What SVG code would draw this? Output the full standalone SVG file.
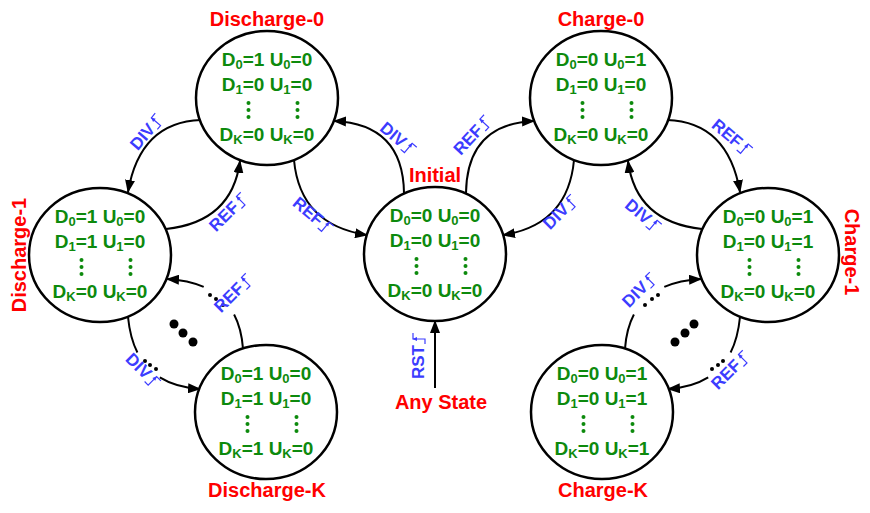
<svg xmlns="http://www.w3.org/2000/svg" xmlns:xlink="http://www.w3.org/1999/xlink" width="870" height="513" viewBox="0 0 870 513">
<style>
.node ellipse{fill:#fff;stroke:#000;stroke-width:2.5}
.st{font-family:"Liberation Sans",Arial,sans-serif;font-weight:bold;font-size:19px;fill:#0d8a0d;text-anchor:middle}
.sb{font-size:13px}
.lbl{font-family:"Liberation Sans",Arial,sans-serif;font-weight:bold;font-size:20px;fill:#ff0000;text-anchor:middle}
.el{font-family:"Liberation Sans",Arial,sans-serif;font-weight:bold;font-size:17px;fill:#3c3cff}
.edge{fill:none;stroke:#3c3cff;stroke-width:1.2}
#connectors path{fill:none;stroke:#000;stroke-width:2}
#connectors path.arr{marker-end:url(#ah)}
</style>
<defs>
<marker id="ah" viewBox="0 0 13 10" refX="12" refY="5" markerWidth="13" markerHeight="10" markerUnits="userSpaceOnUse" orient="auto"><path d="M0,0 L13,5 L0,10 z" fill="#000"/></marker>
<g id="vd" fill="#0d8a0d"><circle cx="-18.5" cy="5" r="2"/><circle cx="-18.5" cy="12" r="2"/><circle cx="-18.5" cy="19" r="2"/><circle cx="30.5" cy="5" r="2"/><circle cx="30.5" cy="12" r="2"/><circle cx="30.5" cy="19" r="2"/></g>
<g id="re"><path class="edge" d="M0,1 H5 V-11 H11"/><path d="M3,-7 L5,-11.5 L7,-7 z" fill="#3c3cff"/></g>
</defs>

<g id="connectors">
<path class="arr" d="M201,120 Q140,122 128,192"/>
<path class="arr" d="M166,229 Q232,222 240,161"/>
<path class="arr" d="M404,193 Q403,124 334,121"/>
<path class="arr" d="M294,160 Q300,225 367,235"/>
<path class="arr" d="M466,193 Q467,124 534,121"/>
<path class="arr" d="M574,160 Q568,225 503,235"/>
<path class="arr" d="M667,120 Q728,122 740,192"/>
<path class="arr" d="M702,229 Q636,222 628,161"/>
<path d="M128,317 Q130.1,338.1 137.4,352.5"/>
<path class="arr" d="M159.8,377.4 Q176,387.5 200,389"/>
<path d="M243,348.6 Q241.5,328.5 234.1,314.5"/>
<path class="arr" d="M203.7,286.9 Q188.3,280.2 167,279"/>
<path d="M740,317 Q737.9,338.1 730.6,352.5"/>
<path class="arr" d="M708.2,377.4 Q692,387.5 668,389"/>
<path d="M625,348.6 Q626.5,328.5 633.9,314.5"/>
<path class="arr" d="M664.3,286.9 Q679.7,280.2 701,279"/>
<path class="arr" d="M435,388 L435,321"/>
<g fill="#000">
<circle cx="145" cy="361" r="2"/><circle cx="150" cy="365" r="2"/><circle cx="156" cy="369" r="2"/>
<circle cx="210" cy="295" r="2"/><circle cx="216" cy="299" r="2"/><circle cx="223" cy="305" r="2"/>
<circle cx="723" cy="361" r="2"/><circle cx="718" cy="365" r="2"/><circle cx="712" cy="369" r="2"/>
<circle cx="658" cy="295" r="2"/><circle cx="652" cy="299" r="2"/><circle cx="645" cy="305" r="2"/>
<circle cx="174" cy="324" r="4.5"/><circle cx="183" cy="333" r="4.5"/><circle cx="193" cy="342" r="4.5"/>
<circle cx="694" cy="324" r="4.5"/><circle cx="685" cy="333" r="4.5"/><circle cx="675" cy="342" r="4.5"/>
</g>
<g transform="translate(146,132) rotate(-50)"><text class="el" x="-20" y="6">DIV</text><use xlink:href="#re" x="9.3" y="6"/></g>
<g transform="translate(228,212) rotate(-45)"><text class="el" x="-23" y="6">REF</text><use xlink:href="#re" x="12" y="6"/></g>
<g transform="translate(398,138) rotate(40)"><text class="el" x="-20" y="6">DIV</text><use xlink:href="#re" x="9.3" y="6"/></g>
<g transform="translate(313,215) rotate(40)"><text class="el" x="-23" y="6">REF</text><use xlink:href="#re" x="12" y="6"/></g>
<g transform="translate(472,135) rotate(-47)"><text class="el" x="-23" y="6">REF</text><use xlink:href="#re" x="12" y="6"/></g>
<g transform="translate(560,212) rotate(-45)"><text class="el" x="-20" y="6">DIV</text><use xlink:href="#re" x="9.3" y="6"/></g>
<g transform="translate(732,137) rotate(40)"><text class="el" x="-23" y="6">REF</text><use xlink:href="#re" x="12" y="6"/></g>
<g transform="translate(643,215) rotate(40)"><text class="el" x="-20" y="6">DIV</text><use xlink:href="#re" x="9.3" y="6"/></g>
<g transform="translate(143,370) rotate(45)"><text class="el" x="-20" y="6">DIV</text><use xlink:href="#re" x="9.3" y="6"/></g>
<g transform="translate(233,293) rotate(-45)"><text class="el" x="-23" y="6">REF</text><use xlink:href="#re" x="12" y="6"/></g>
<g transform="translate(730,370) rotate(-45)"><text class="el" x="-23" y="6">REF</text><use xlink:href="#re" x="12" y="6"/></g>
<g transform="translate(639,290) rotate(-45)"><text class="el" x="-20" y="6">DIV</text><use xlink:href="#re" x="9.3" y="6"/></g>
<g transform="translate(418,356) rotate(-90)"><text class="el" x="-23" y="6">RST</text><use xlink:href="#re" x="12" y="6"/></g>
<text class="lbl" x="441" y="409">Any State</text>
</g>

<g id="discharge0" class="node">
<ellipse cx="267" cy="98" rx="71" ry="67"/>
<text class="lbl" x="267" y="26">Discharge-0</text>
<text class="st" x="267" y="66">D<tspan class="sb" dy="3">0</tspan><tspan dy="-3">=1 U</tspan><tspan class="sb" dy="3">0</tspan><tspan dy="-3">=0</tspan></text>
<text class="st" x="267" y="91">D<tspan class="sb" dy="3">1</tspan><tspan dy="-3">=0 U</tspan><tspan class="sb" dy="3">1</tspan><tspan dy="-3">=0</tspan></text>
<use xlink:href="#vd" x="267" y="98"/>
<text class="st" x="267" y="141">D<tspan class="sb" dy="3">K</tspan><tspan dy="-3">=0 U</tspan><tspan class="sb" dy="3">K</tspan><tspan dy="-3">=0</tspan></text>
</g>

<g id="charge0" class="node">
<ellipse cx="601" cy="98" rx="71" ry="67"/>
<text class="lbl" x="601" y="26">Charge-0</text>
<text class="st" x="601" y="66">D<tspan class="sb" dy="3">0</tspan><tspan dy="-3">=0 U</tspan><tspan class="sb" dy="3">0</tspan><tspan dy="-3">=1</tspan></text>
<text class="st" x="601" y="91">D<tspan class="sb" dy="3">1</tspan><tspan dy="-3">=0 U</tspan><tspan class="sb" dy="3">1</tspan><tspan dy="-3">=0</tspan></text>
<use xlink:href="#vd" x="601" y="98"/>
<text class="st" x="601" y="141">D<tspan class="sb" dy="3">K</tspan><tspan dy="-3">=0 U</tspan><tspan class="sb" dy="3">K</tspan><tspan dy="-3">=0</tspan></text>
</g>

<g id="initial" class="node">
<ellipse cx="435" cy="254" rx="71" ry="67"/>
<text class="lbl" x="435" y="182">Initial</text>
<text class="st" x="435" y="222">D<tspan class="sb" dy="3">0</tspan><tspan dy="-3">=0 U</tspan><tspan class="sb" dy="3">0</tspan><tspan dy="-3">=0</tspan></text>
<text class="st" x="435" y="247">D<tspan class="sb" dy="3">1</tspan><tspan dy="-3">=0 U</tspan><tspan class="sb" dy="3">1</tspan><tspan dy="-3">=0</tspan></text>
<use xlink:href="#vd" x="435" y="254"/>
<text class="st" x="435" y="297">D<tspan class="sb" dy="3">K</tspan><tspan dy="-3">=0 U</tspan><tspan class="sb" dy="3">K</tspan><tspan dy="-3">=0</tspan></text>
</g>

<g id="discharge1" class="node">
<ellipse cx="100" cy="255" rx="71" ry="67"/>
<text class="lbl" transform="translate(26,255) rotate(-90)">Discharge-1</text>
<text class="st" x="100" y="223">D<tspan class="sb" dy="3">0</tspan><tspan dy="-3">=1 U</tspan><tspan class="sb" dy="3">0</tspan><tspan dy="-3">=0</tspan></text>
<text class="st" x="100" y="248">D<tspan class="sb" dy="3">1</tspan><tspan dy="-3">=1 U</tspan><tspan class="sb" dy="3">1</tspan><tspan dy="-3">=0</tspan></text>
<use xlink:href="#vd" x="100" y="255"/>
<text class="st" x="100" y="298">D<tspan class="sb" dy="3">K</tspan><tspan dy="-3">=0 U</tspan><tspan class="sb" dy="3">K</tspan><tspan dy="-3">=0</tspan></text>
</g>

<g id="charge1" class="node">
<ellipse cx="768" cy="255" rx="71" ry="67"/>
<text class="lbl" transform="translate(845,252) rotate(90)">Charge-1</text>
<text class="st" x="768" y="223">D<tspan class="sb" dy="3">0</tspan><tspan dy="-3">=0 U</tspan><tspan class="sb" dy="3">0</tspan><tspan dy="-3">=1</tspan></text>
<text class="st" x="768" y="248">D<tspan class="sb" dy="3">1</tspan><tspan dy="-3">=0 U</tspan><tspan class="sb" dy="3">1</tspan><tspan dy="-3">=1</tspan></text>
<use xlink:href="#vd" x="768" y="255"/>
<text class="st" x="768" y="298">D<tspan class="sb" dy="3">K</tspan><tspan dy="-3">=0 U</tspan><tspan class="sb" dy="3">K</tspan><tspan dy="-3">=0</tspan></text>
</g>

<g id="dischargeK" class="node">
<ellipse cx="266" cy="412" rx="71" ry="67"/>
<text class="lbl" x="267" y="497">Discharge-K</text>
<text class="st" x="266" y="380">D<tspan class="sb" dy="3">0</tspan><tspan dy="-3">=1 U</tspan><tspan class="sb" dy="3">0</tspan><tspan dy="-3">=0</tspan></text>
<text class="st" x="266" y="405">D<tspan class="sb" dy="3">1</tspan><tspan dy="-3">=1 U</tspan><tspan class="sb" dy="3">1</tspan><tspan dy="-3">=0</tspan></text>
<use xlink:href="#vd" x="266" y="412"/>
<text class="st" x="266" y="455">D<tspan class="sb" dy="3">K</tspan><tspan dy="-3">=1 U</tspan><tspan class="sb" dy="3">K</tspan><tspan dy="-3">=0</tspan></text>
</g>

<g id="chargeK" class="node">
<ellipse cx="602" cy="412" rx="71" ry="67"/>
<text class="lbl" x="603" y="497">Charge-K</text>
<text class="st" x="602" y="380">D<tspan class="sb" dy="3">0</tspan><tspan dy="-3">=0 U</tspan><tspan class="sb" dy="3">0</tspan><tspan dy="-3">=1</tspan></text>
<text class="st" x="602" y="405">D<tspan class="sb" dy="3">1</tspan><tspan dy="-3">=0 U</tspan><tspan class="sb" dy="3">1</tspan><tspan dy="-3">=1</tspan></text>
<use xlink:href="#vd" x="602" y="412"/>
<text class="st" x="602" y="455">D<tspan class="sb" dy="3">K</tspan><tspan dy="-3">=0 U</tspan><tspan class="sb" dy="3">K</tspan><tspan dy="-3">=1</tspan></text>
</g>
</svg>
